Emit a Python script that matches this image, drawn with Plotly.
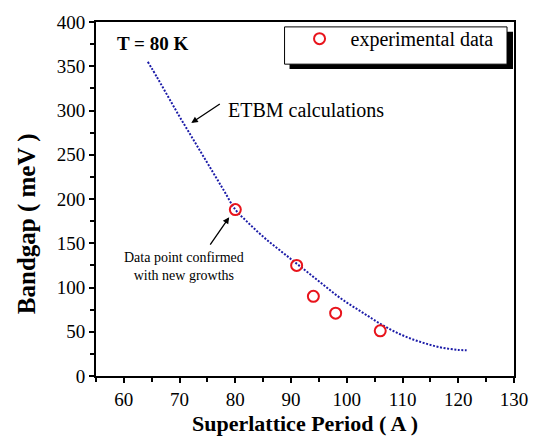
import plotly.graph_objects as go

# ETBM calculation curve
calc_period = [64.3, 66, 68, 70, 72, 74, 76, 78, 80, 82, 84, 86, 88, 90, 92, 94,
               96, 98, 100, 102, 104, 106, 108, 110, 112, 114, 116, 118, 120, 121.5]
calc_gap = [355, 337, 315, 293, 272, 251, 230, 209, 188, 175, 163, 152, 142, 132, 122, 112,
            102, 92, 83, 75, 67, 59, 52, 46, 41, 37, 33.5, 31, 29.5, 29]

# experimental data
exp_period = [80, 91, 94, 98, 106]
exp_gap = [188, 125, 90, 71, 51]

serif = "Liberation Serif, Times New Roman, serif"

fig = go.Figure()
fig.add_trace(go.Scatter(
    x=calc_period, y=calc_gap, mode="lines", showlegend=False,
    line=dict(color="#1c1ca8", width=2, dash="2px,1.6px", shape="spline"),
    name="ETBM calculations"))
fig.add_trace(go.Scatter(
    x=exp_period, y=exp_gap, mode="markers", name="experimental data",
    marker=dict(symbol="circle-open", size=11, color="#e8141c", line=dict(width=2, color="#e8141c"))))

W, H = 540, 438
L, R, T, B = 96, 25, 15, 62
pw, ph = W - L - R, H - T - B

def px(x):
    return (x - L) / pw

def py(y):
    return (H - B - y) / ph

# legend box with shadow
fig.add_shape(type="rect", xref="paper", yref="paper",
              x0=px(290), x1=px(514), y0=py(63), y1=py(25),
              fillcolor="black", line=dict(width=0), layer="above")
fig.add_shape(type="rect", xref="paper", yref="paper",
              x0=px(285), x1=px(508), y0=py(58), y1=py(20),
              fillcolor="white", line=dict(color="black", width=1), layer="above")

axis_common = dict(
    showline=True, linecolor="black", linewidth=2, mirror=True,
    ticks="outside", ticklen=5, tickwidth=1.5, tickcolor="black",
    showgrid=False, zeroline=False,
    tickfont=dict(family=serif, size=19, color="black"),
)

fig.update_layout(
    width=W, height=H,
    margin=dict(l=L, r=R, t=T, b=B),
    paper_bgcolor="white", plot_bgcolor="white",
    xaxis=dict(range=[55, 130], tickvals=[60, 70, 80, 90, 100, 110, 120, 130],
               minor=dict(tickvals=[55, 65, 75, 85, 95, 105, 115, 125], ticks="outside",
                          ticklen=4, tickwidth=1.5, tickcolor="black"),
               **axis_common),
    yaxis=dict(range=[0, 400], tickvals=[0, 50, 100, 150, 200, 250, 300, 350, 400],
               minor=dict(tickvals=[25, 75, 125, 175, 225, 275, 325, 375], ticks="outside",
                          ticklen=4, tickwidth=1.5, tickcolor="black"),
               **axis_common),
    legend=dict(x=px(289), y=py(32), xanchor="left", yanchor="middle",
                bgcolor="rgba(0,0,0,0)", borderwidth=0,
                font=dict(family=serif, size=20, color="black"), itemwidth=52),
    showlegend=True,
)

def txt(text, x, y, size, **kw):
    return dict(text=text, xref="paper", yref="paper", x=px(x), y=py(y),
                xanchor=kw.pop("xanchor", "center"), yanchor="middle", showarrow=False,
                font=dict(family=serif, size=size, color="black"), **kw)

annots = [
    txt("<b>Superlattice Period ( A )</b>", 305, 424, 22),
    txt("<b>Bandgap ( meV )</b>", 27, 221, 25, textangle=-90),
    txt("<b>T = 80 K</b>", 115, 37, 19, xanchor="left"),
    txt("ETBM calculations", 226, 105, 20, xanchor="left"),
    txt("Data point confirmed<br>with new growths", 184, 264, 14, align="center"),
    dict(text="", x=72.1, y=285.9, xref="x", yref="y", showarrow=True,
         ax=30, ay=-20, arrowhead=2, arrowsize=1, arrowwidth=1.3, arrowcolor="black"),
    dict(text="", x=78.9, y=179.5, xref="x", yref="y", showarrow=True,
         ax=-20, ay=29, arrowhead=2, arrowsize=1, arrowwidth=1.3, arrowcolor="black"),
]
fig.update_layout(annotations=annots)

fig.write_html("out.html")
